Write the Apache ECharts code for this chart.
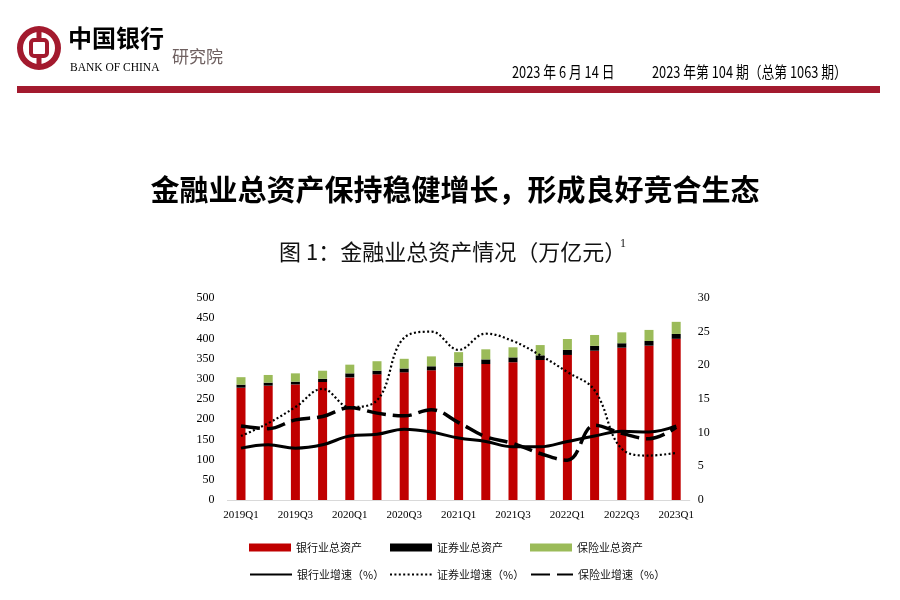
<!DOCTYPE html>
<html><head><meta charset="utf-8">
<script src="https://cdn.jsdelivr.net/npm/echarts/dist/echarts.min.js"></script>
<style>html,body{margin:0;padding:0;background:#fff}#c{width:900px;height:600px}</style>
</head><body><div id="c"></div><script>
const categories = ['2019Q1','2019Q2','2019Q3','2019Q4','2020Q1','2020Q2','2020Q3','2020Q4','2021Q1','2021Q2','2021Q3','2021Q4','2022Q1','2022Q2','2022Q3','2022Q4','2023Q1'];
const bankAssets = [278, 283, 286, 292, 303.5, 311, 316, 321, 330, 336.5, 341, 346.5, 359, 369.5, 377, 382, 399];
const secAssets = [7.5, 7.5, 7, 8, 10, 9, 9.5, 10, 10, 11.5, 12, 11.5, 12.5, 12, 11, 11.5, 12];
const insAssets = [18.5, 19, 20.5, 20, 21.5, 23.5, 24, 24.5, 26, 25, 25, 25.5, 27, 27, 27, 27.5, 30];
const bankGrowth = [7.7, 8.2, 7.7, 8.2, 9.5, 9.75, 10.5, 10.1, 9.2, 8.7, 7.9, 7.9, 8.7, 9.5, 10.2, 10.1, 11.0];
const secGrowth = [9.5, 11.4, 13.8, 16.5, 13.8, 14.8, 24.1, 25.0, 22.3, 24.7, 23.6, 21.5, 19.0, 16.3, 7.6, 6.6, 7.0];
const insGrowth = [11.0, 10.6, 11.9, 12.4, 13.7, 12.9, 12.5, 13.4, 11.5, 9.4, 8.4, 6.9, 5.9, 11.1, 9.9, 9.1, 10.8];
const leftTicks = {min: 0, max: 500, interval: 50};
const rightTicks = {min: 0, max: 30, interval: 5};
const names = ['银行业总资产','证券业总资产','保险业总资产','银行业增速（%）','证券业增速（%）','保险业增速（%）'];

const RED = '#c00000', GREEN = '#9bbb59', BLACK = '#000000', BRAND = '#a31a2e';
const CJK = '"Noto Sans CJK SC", sans-serif';
const SERIF = '"Liberation Serif", "DejaVu Serif", serif';

const chart = echarts.init(document.getElementById('c'), null, {renderer: 'canvas'});

function lg(name, left, top, isBar) {
  const o = {
    data: [name], left: left, top: top, orient: 'horizontal',
    itemWidth: 42, itemHeight: isBar ? 8 : 10, itemGap: 0,
    padding: 0, selectedMode: false,
    textStyle: {fontSize: 11, color: '#111', fontFamily: CJK}
  };
  if (isBar) o.icon = 'rect';
  else o.itemStyle = {opacity: 0, borderWidth: 0};
  return o;
}

const option = {
  animation: false,
  backgroundColor: '#ffffff',
  grid: {left: 227.4, right: 210.2, top: 298, bottom: 100, containLabel: false},
  legend: [
    lg(names[0], 249, 542, true),
    lg(names[1], 390, 542, true),
    lg(names[2], 530, 542, true),
    lg(names[3], 249, 569, false),
    lg(names[4], 389, 569, false),
    lg(names[5], 530, 569, false)
  ],
  xAxis: {
    type: 'category', data: categories,
    axisLine: {show: true, lineStyle: {color: '#d9d9d9', width: 1}},
    axisTick: {show: false},
    axisLabel: {interval: 1, color: '#000', fontSize: 11, fontFamily: SERIF, margin: 10}
  },
  yAxis: [
    {type: 'value', min: leftTicks.min, max: leftTicks.max, interval: leftTicks.interval,
     splitLine: {show: false}, axisLine: {show: false}, axisTick: {show: false},
     axisLabel: {color: '#000', fontSize: 12, fontFamily: SERIF, margin: 13}},
    {type: 'value', min: rightTicks.min, max: rightTicks.max, interval: rightTicks.interval,
     position: 'right', splitLine: {show: false}, axisLine: {show: false}, axisTick: {show: false},
     axisLabel: {color: '#000', fontSize: 12, fontFamily: SERIF, margin: 8}}
  ],
  series: [
    {name: names[0], type: 'bar', stack: 'a', data: bankAssets, barWidth: 9, itemStyle: {color: RED}},
    {name: names[1], type: 'bar', stack: 'a', data: secAssets, barWidth: 9, itemStyle: {color: BLACK}},
    {name: names[2], type: 'bar', stack: 'a', data: insAssets, barWidth: 9, itemStyle: {color: GREEN}},
    {name: names[3], type: 'line', yAxisIndex: 1, data: bankGrowth, smooth: 0.4, symbol: 'none',
     itemStyle: {color: BLACK}, lineStyle: {color: BLACK, width: 3}},
    {name: names[4], type: 'line', yAxisIndex: 1, data: secGrowth, smooth: 0.4, symbol: 'none',
     itemStyle: {color: BLACK}, lineStyle: {color: BLACK, width: 2.2, type: [2, 2.4], cap: 'butt'}},
    {name: names[5], type: 'line', yAxisIndex: 1, data: insGrowth, smooth: 0.4, symbol: 'none',
     itemStyle: {color: BLACK}, lineStyle: {color: BLACK, width: 3.5, type: [19, 7], cap: 'butt'}}
  ],
  graphic: [
    {type: 'ring', shape: {cx: 39, cy: 48, r: 22, r0: 16}, style: {fill: BRAND}},
    {type: 'rect', shape: {x: 36.5, y: 28, width: 5, height: 40}, style: {fill: BRAND}},
    {type: 'rect', shape: {x: 31, y: 40, width: 16, height: 16, r: 3}, style: {fill: '#fff', stroke: BRAND, lineWidth: 4}},
    {type: 'text', left: 68, top: 26, style: {text: '中国银行', fontSize: 24, fontWeight: 'bold', fill: '#000', fontFamily: CJK}},
    {type: 'text', left: 70, top: 62, style: {text: 'BANK OF CHINA', fontSize: 11.5, fill: '#000', fontFamily: SERIF}},
    {type: 'text', left: 172, top: 48, style: {text: '研究院', fontSize: 17, fill: '#6e6060', fontFamily: CJK}},
    {type: 'text', x: 512, y: 72, scaleX: 0.8, style: {text: '2023 年 6 月 14 日', fontSize: 16, fill: '#000', fontFamily: CJK, textAlign: 'left', textVerticalAlign: 'middle'}},
    {type: 'text', x: 652, y: 72, scaleX: 0.8, style: {text: '2023 年第 104 期（总第 1063 期）', fontSize: 16, fill: '#000', fontFamily: CJK, textAlign: 'left', textVerticalAlign: 'middle'}},
    {type: 'rect', shape: {x: 17, y: 86, width: 863, height: 7}, style: {fill: BRAND}},
    {type: 'text', x: 455, y: 190, style: {text: '金融业总资产保持稳健增长，形成良好竞合生态', fontSize: 29, fontWeight: 'bold', fill: '#000', fontFamily: CJK, textAlign: 'center', textVerticalAlign: 'middle'}},
    {type: 'text', x: 279, y: 252, style: {text: '图 1：金融业总资产情况（万亿元）', fontSize: 22, fill: '#111', fontFamily: CJK, textAlign: 'left', textVerticalAlign: 'middle'}},
    {type: 'text', x: 620, y: 244, style: {text: '1', fontSize: 12, fill: '#111', fontFamily: SERIF, textAlign: 'left', textVerticalAlign: 'middle'}}
  ]
};
chart.setOption(option);
</script></body></html>
